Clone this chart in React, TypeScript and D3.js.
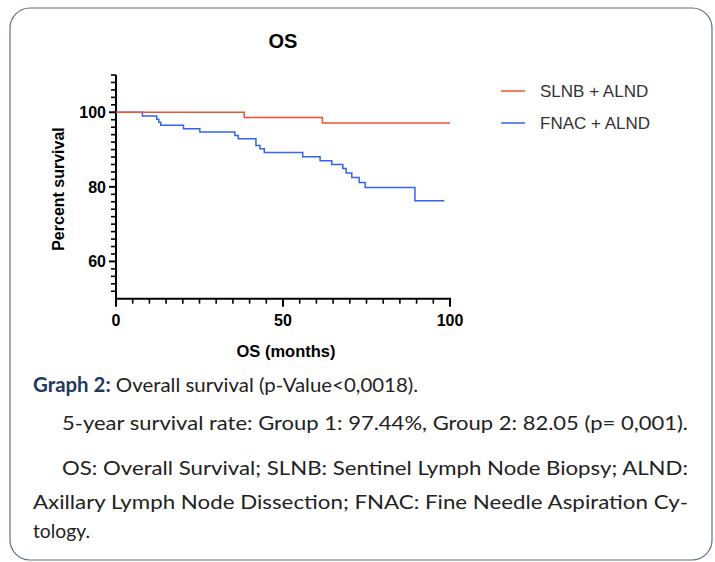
import React, { useEffect, useRef } from 'react';
import * as d3 from 'd3';

// Kaplan-Meier steps (months, percent)
const slnbTimes = [0, 38.4, 61.8];
const slnbSurv = [100, 98.6, 97.1];
const slnbEnd = 100;

const fnacTimes = [0, 7.9, 12.2, 12.8, 13.4, 20.2, 25.1, 35.6, 36.6, 41.9, 43.1, 44.4, 55.9, 61.1, 64.6, 67.9, 68.9, 70.6, 72.8, 74.6, 89.5];
const fnacSurv = [100, 99.0, 98.1, 97.3, 96.5, 95.6, 94.7, 93.8, 92.9, 91.1, 90.2, 89.2, 88.1, 87.0, 86.0, 84.9, 83.7, 82.5, 81.2, 79.8, 76.3];
const fnacEnd = 98.3;

const seriesNames = ['SLNB + ALND', 'FNAC + ALND'];
const seriesColors = ['#f4522d', '#3562f2'];

const xMajor = [0, 50, 100];
const yMajor = [60, 80, 100];

const W = 715;
const H = 562;
const m = { left: 116, right: 450, top: 75, bottom: 298.7 };

export default function App() {
  const ref = useRef<SVGSVGElement>(null);

  useEffect(() => {
    const svg = d3.select(ref.current);
    svg.selectAll('*').remove();

    const x = d3.scaleLinear().domain([0, 100]).range([m.left, m.right]);
    const y = d3.scaleLinear().domain([50, 110]).range([m.bottom, m.top]);

    // card frame
    svg.append('rect')
      .attr('x', 10).attr('y', 8).attr('width', 702).attr('height', 552)
      .attr('rx', 20).attr('ry', 20)
      .attr('fill', '#fff').attr('stroke', '#5d7086').attr('stroke-width', 1.2);

    svg.append('text')
      .attr('x', 283).attr('y', 48)
      .attr('text-anchor', 'middle')
      .style('font', 'bold 20px "Liberation Sans", Arial, sans-serif')
      .text('OS');

    const axisFont = 'bold 16px "Liberation Sans", Arial, sans-serif';

    // y axis
    const yAxis = svg.append('g');
    yAxis.append('line')
      .attr('x1', m.left).attr('x2', m.left)
      .attr('y1', y(110)).attr('y2', y(50))
      .attr('stroke', '#000').attr('stroke-width', 2);
    d3.range(52, 111, 2).forEach((v) => {
      const major = yMajor.includes(v);
      yAxis.append('line')
        .attr('x1', m.left).attr('x2', m.left - (major ? 7 : 5))
        .attr('y1', y(v)).attr('y2', y(v))
        .attr('stroke', '#000').attr('stroke-width', major ? 2 : 1.6);
    });
    yMajor.forEach((v) => {
      yAxis.append('text')
        .attr('x', m.left - 10).attr('y', y(v))
        .attr('dy', '0.36em').attr('text-anchor', 'end')
        .style('font', axisFont)
        .text(v);
    });

    // x axis
    const xAxis = svg.append('g');
    xAxis.append('line')
      .attr('x1', x(0) - 1).attr('x2', x(100) + 1)
      .attr('y1', m.bottom).attr('y2', m.bottom)
      .attr('stroke', '#000').attr('stroke-width', 2);
    d3.range(0, 101, 5).forEach((v) => {
      const major = xMajor.includes(v);
      xAxis.append('line')
        .attr('x1', x(v)).attr('x2', x(v))
        .attr('y1', m.bottom).attr('y2', m.bottom + (major ? 8 : 5))
        .attr('stroke', '#000').attr('stroke-width', major ? 2 : 1.6);
    });
    xMajor.forEach((v) => {
      xAxis.append('text')
        .attr('x', x(v)).attr('y', m.bottom + 27)
        .attr('text-anchor', 'middle')
        .style('font', axisFont)
        .text(v);
    });

    svg.append('text')
      .attr('x', 286).attr('y', 357)
      .attr('text-anchor', 'middle')
      .style('font', 'bold 16.5px "Liberation Sans", Arial, sans-serif')
      .text('OS (months)');

    svg.append('text')
      .attr('transform', `translate(64, ${189}) rotate(-90)`)
      .attr('text-anchor', 'middle')
      .style('font', 'bold 16px "Liberation Sans", Arial, sans-serif')
      .text('Percent survival');

    // curves
    const line = d3.line<[number, number]>()
      .x((d) => x(d[0]))
      .y((d) => y(d[1]))
      .curve(d3.curveStepAfter);

    const makePts = (t: number[], s: number[], end: number): [number, number][] => {
      const pts = t.map((tv, i) => [tv, s[i]] as [number, number]);
      pts.push([end, s[s.length - 1]]);
      return pts;
    };

    [makePts(fnacTimes, fnacSurv, fnacEnd), makePts(slnbTimes, slnbSurv, slnbEnd)].forEach((pts, i) => {
      svg.append('path')
        .attr('d', line(pts))
        .attr('fill', 'none')
        .attr('stroke', seriesColors[1 - i])
        .attr('stroke-width', 1.5);
    });

    // legend
    seriesNames.forEach((name, i) => {
      const ly = 91 + i * 32;
      svg.append('line')
        .attr('x1', 501).attr('x2', 525)
        .attr('y1', ly).attr('y2', ly)
        .attr('stroke', seriesColors[i]).attr('stroke-width', 1.5);
      svg.append('text')
        .attr('x', 540).attr('y', ly).attr('dy', '0.36em')
        .attr('fill', '#333')
        .style('font', '17px "Liberation Sans", Arial, sans-serif')
        .text(name);
    });

    // caption
    const capFont = '20px Lato, "Open Sans", sans-serif';
    const cap = svg.append('g').attr('fill', '#222');
    const first = cap.append('text').attr('x', 33).attr('y', 392).style('font', capFont)
      .attr('textLength', 385).attr('lengthAdjust', 'spacingAndGlyphs');
    first.append('tspan').attr('fill', '#1e3a5f').style('font-weight', 'bold').text('Graph 2:');
    first.append('tspan').text(' Overall survival (p-Value<0,0018).');

    const lines: [number, number, string][] = [
      [62, 430, '5-year survival rate: Group 1: 97.44%, Group 2: 82.05 (p= 0,001).'],
      [62, 475, 'OS: Overall Survival; SLNB: Sentinel Lymph Node Biopsy; ALND:'],
      [33, 509, 'Axillary Lymph Node Dissection; FNAC: Fine Needle Aspiration Cy-'],
    ];
    lines.forEach(([lx, ly, t]) => {
      cap.append('text').attr('x', lx).attr('y', ly).style('font', capFont)
        .attr('textLength', 688 - lx).attr('lengthAdjust', 'spacingAndGlyphs')
        .text(t);
    });
    cap.append('text').attr('x', 33).attr('y', 538).style('font', capFont)
      .attr('textLength', 57).attr('lengthAdjust', 'spacingAndGlyphs')
      .text('tology.');
  }, []);

  return (
    <svg ref={ref} width={W} height={H} style={{ position: 'absolute', left: 0, top: 0, background: '#fff' }} />
  );
}
